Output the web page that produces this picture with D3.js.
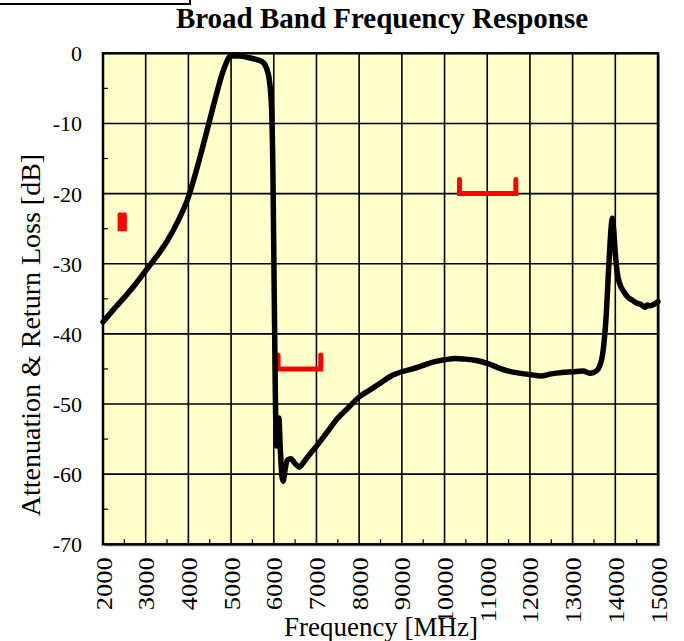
<!DOCTYPE html>
<html>
<head>
<meta charset="utf-8">
<script src="https://cdn.jsdelivr.net/npm/d3@7"></script>
<style>
  html, body { margin: 0; padding: 0; background: #ffffff; }
  svg { display: block; }
  text { font-family: "Liberation Serif", "Times New Roman", serif; fill: #000; }
</style>
</head>
<body>
<svg id="chart" width="684" height="641"></svg>
<script>
// ---- Data ----
const freqMHz = [2000, 2250, 2500, 2750, 3000, 3250, 3500, 3750, 4000, 4250, 4500, 4650, 4800, 4900, 4950, 5000, 5200, 5400, 5600, 5750, 5850, 5900, 5950, 5980, 6000, 6030, 6050, 6070, 6090, 6120, 6150, 6190, 6220, 6260, 6320, 6400, 6500, 6600, 6700, 6800, 7000, 7250, 7500, 7750, 8000, 8250, 8500, 8750, 9000, 9250, 9500, 9750, 10000, 10250, 10500, 10750, 11000, 11250, 11500, 11750, 12000, 12250, 12500, 12750, 13000, 13250, 13400, 13500, 13600, 13700, 13780, 13850, 13900, 13930, 13960, 14000, 14050, 14100, 14200, 14300, 14400, 14500, 14600, 14700, 14750, 14800, 14900, 15000];
const responseDb = [-38.3, -36.5, -34.8, -33, -31, -29, -26.8, -24, -20.5, -15.3, -9.5, -6, -2.8, -1.2, -0.6, -0.4, -0.4, -0.6, -0.9, -1.3, -2.5, -4, -8, -17, -28, -45, -54, -56, -53, -52, -56, -60.3, -61, -59.5, -58, -57.8, -58.5, -59, -58.3, -57.5, -56, -54, -52, -50.5, -49, -48, -47, -46, -45.4, -45, -44.5, -44, -43.7, -43.5, -43.6, -43.8, -44.2, -44.8, -45.3, -45.6, -45.8, -46, -45.7, -45.5, -45.4, -45.3, -45.6, -45.5, -45, -43, -38, -30, -25, -23.5, -25, -28.5, -31.5, -32.8, -34, -34.8, -35.2, -35.6, -35.8, -36.2, -35.9, -36, -35.8, -35.4];

// spec brackets (red)
const specStart = [2400, 6100, 10350];
const specEnd = [2500, 7100, 11670];
const specLevel = [-25, -45, -20];
const specTop = [-23, -43, -18];

const xTicks = [2000, 3000, 4000, 5000, 6000, 7000, 8000, 9000, 10000, 11000, 12000, 13000, 14000, 15000];
const yTicks = [0, -10, -20, -30, -40, -50, -60, -70];
const xMinor = [2500, 3500, 4500, 5500, 6500, 7500, 8500, 9500, 10500, 11500, 12500, 13500, 14500];
const yMinor = [-5, -15, -25, -35, -45, -55, -65];

const titleText = "Broad Band Frequency Response";
const xTitle = "Frequency [MHz]";
const yTitle = "Attenuation & Return Loss [dB]";

// ---- Layout ----
const L = 103, R = 658, T = 53.3, B = 544.3;
const svg = d3.select("#chart");

const x = d3.scaleLinear().domain([2000, 15000]).range([L, R]);
const y = d3.scaleLinear().domain([-70, 0]).range([B, T]);

// top-left box fragment
svg.append("rect").attr("x", -10).attr("y", -10).attr("width", 200).attr("height", 14)
  .attr("fill", "none").attr("stroke", "#000").attr("stroke-width", 2);

// title
svg.append("text").attr("x", 382).attr("y", 28).attr("text-anchor", "middle")
  .attr("font-size", 29).attr("font-weight", "bold").text(titleText);

// shadow + background
svg.append("rect").attr("x", L + 2).attr("y", T + 2).attr("width", R - L).attr("height", B - T)
  .attr("fill", "#9a9a9a");
svg.append("rect").attr("x", L).attr("y", T).attr("width", R - L).attr("height", B - T)
  .attr("fill", "#FFFFCC");

// gridlines
const g = svg.append("g");
g.selectAll(".vg").data(xTicks.slice(1, -1)).enter().append("line")
  .attr("x1", d => x(d)).attr("x2", d => x(d)).attr("y1", T).attr("y2", B)
  .attr("stroke", "#000").attr("stroke-width", 1.6);
g.selectAll(".hg").data(yTicks.slice(1, -1)).enter().append("line")
  .attr("y1", d => y(d)).attr("y2", d => y(d)).attr("x1", L).attr("x2", R)
  .attr("stroke", "#000").attr("stroke-width", 1.6);

// minor ticks
g.selectAll(".xm").data(xMinor).enter().append("line")
  .attr("x1", d => x(d)).attr("x2", d => x(d)).attr("y1", B).attr("y2", B - 5)
  .attr("stroke", "#000").attr("stroke-width", 1.2);
g.selectAll(".ym").data(yMinor).enter().append("line")
  .attr("y1", d => y(d)).attr("y2", d => y(d)).attr("x1", L - 1).attr("x2", L + 5)
  .attr("stroke", "#000").attr("stroke-width", 1.2);

// axes via d3 (labels only; tick lines removed)
const yAxis = d3.axisLeft(y).tickValues(yTicks).tickFormat(d => String(d)).tickSize(0).tickPadding(0);
const ya = svg.append("g").attr("transform", `translate(${L - 21},0)`).call(yAxis);
ya.select(".domain").remove();
ya.selectAll("text").attr("font-size", 22).attr("font-family", "Liberation Serif, Times New Roman, serif")
  .attr("dy", "0.34em").attr("fill", "#000");

const xAxis = d3.axisBottom(x).tickValues(xTicks).tickFormat(d => String(d)).tickSize(0).tickPadding(0);
const xa = svg.append("g").attr("transform", `translate(0,${B})`).call(xAxis);
xa.select(".domain").remove();
xa.selectAll("text")
  .attr("font-size", 23).attr("font-family", "Liberation Serif, Times New Roman, serif").attr("fill", "#000")
  .attr("text-anchor", "end").attr("y", 0).attr("dy", 0)
  .attr("transform", "translate(8,13) rotate(-90) scale(1.15,1)");

// spec brackets (red) — drawn under the curve
const specIdx = d3.range(specStart.length);
svg.append("g").selectAll("path").data(specIdx).enter().append("path")
  .attr("d", i => `M${x(specStart[i])},${y(specTop[i])}L${x(specStart[i])},${y(specLevel[i])}L${x(specEnd[i])},${y(specLevel[i])}L${x(specEnd[i])},${y(specTop[i])}`)
  .attr("fill", "none").attr("stroke", "#FF0000").attr("stroke-width", 5)
  .attr("stroke-linejoin", "miter").attr("stroke-linecap", "round");

// curve
const line = d3.line().x((d, i) => x(freqMHz[i])).y(d => y(d)).curve(d3.curveMonotoneX);
svg.append("path").datum(responseDb).attr("d", line)
  .attr("fill", "none").attr("stroke", "#000").attr("stroke-width", 5.5)
  .attr("stroke-linejoin", "round").attr("stroke-linecap", "round");

// border
svg.append("rect").attr("x", L).attr("y", T).attr("width", R - L).attr("height", B - T)
  .attr("fill", "none").attr("stroke", "#000").attr("stroke-width", 2.5);

// axis titles
svg.append("text").attr("x", 381).attr("y", 636).attr("text-anchor", "middle")
  .attr("font-size", 27).text(xTitle);
svg.append("text").attr("transform", "translate(40,335) rotate(-90)").attr("text-anchor", "middle")
  .attr("font-size", 28).text(yTitle);
</script>
</body>
</html>
